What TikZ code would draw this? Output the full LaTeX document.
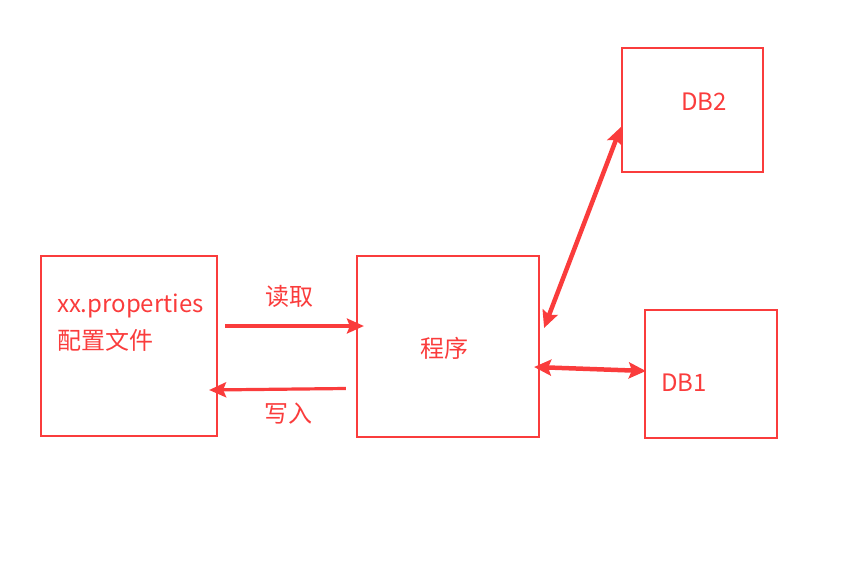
\documentclass[tikz,border=0pt]{standalone}
\usepackage{fontspec}
\setmainfont{Noto Sans CJK SC}
\usetikzlibrary{arrows.meta}
\definecolor{myred}{RGB}{250,60,60}
\tikzset{
  box/.style={draw=myred, line width=2.2pt, inner sep=0pt},
  lbl/.style={text=myred, font=\fontsize{24}{28}\selectfont, inner sep=0pt},
  onearrow/.style={draw=myred, line width=3.2pt, -{Stealth[length=17pt,width=15pt,inset=3pt]}},
  twoarrow/.style={draw=myred, line width=4.5pt, {Stealth[length=17pt,width=16pt,inset=3pt]}-{Stealth[length=17pt,width=16pt,inset=3pt]}},
}
\begin{document}
\begin{tikzpicture}[x=1pt,y=-1pt]
\useasboundingbox (0,0) rectangle (841,568);
\node[box, minimum width=176pt, minimum height=180pt] (cfg) at (129,346) {};
\node[box, minimum width=182pt, minimum height=181pt] (prog) at (448,346.5) {};
\node[box, minimum width=141pt, minimum height=124pt] (db2) at (692.5,110) {};
\node[box, minimum width=132pt, minimum height=128pt] (db1) at (711,374) {};
\node[lbl, anchor=west] (t1) at (57,306) {xx.properties};
\node[lbl, anchor=west] (t2) at (57,340) {配置文件};
\node[lbl] (tread) at (289,296) {读取};
\node[lbl] (twrite) at (288,414) {写入};
\node[lbl] (tprog) at (444,348) {程序};
\node[lbl] (tdb2) at (704,102) {DB2};
\node[lbl] (tdb1) at (684,383) {DB1};
\draw[onearrow] ([xshift=7pt,yshift=20pt]cfg.east) -- ([xshift=8pt,yshift=20.5pt]prog.west);
\draw[onearrow] ([xshift=-10pt,yshift=-42pt]prog.west) -- ([xshift=-9pt,yshift=-44pt]cfg.east);
\draw[twoarrow] ([xshift=4pt,yshift=18.5pt]prog.east) -- ([yshift=-17pt]db2.west);
\draw[twoarrow] ([xshift=-6pt,yshift=-20.5pt]prog.east) -- ([xshift=2pt,yshift=3pt]db1.west);
\end{tikzpicture}
\end{document}
